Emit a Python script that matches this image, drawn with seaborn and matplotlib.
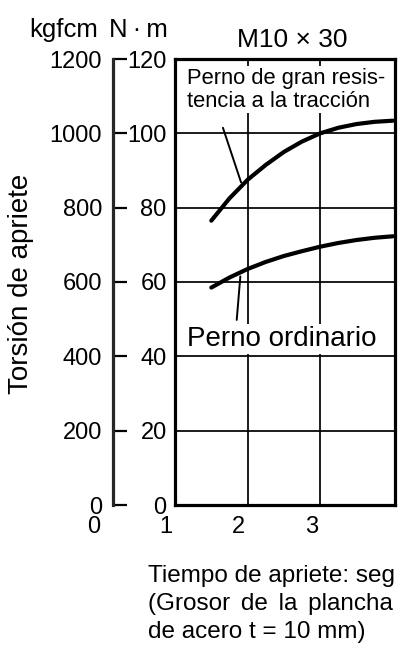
import numpy as np
import pandas as pd
import matplotlib
matplotlib.use("Agg")
import matplotlib.pyplot as plt
import matplotlib.transforms as mtransforms
import seaborn as sns

# tiempo de apriete (seg)
tiempo = [1.5, 1.75, 2.0, 2.25, 2.5, 2.75, 3.0, 3.25, 3.5, 3.75, 4.0]
# torsion de apriete (N·m)
perno_gran_resistencia = [76.5, 82.5, 87.5, 91.5, 95.0, 97.8, 100.0, 101.5, 102.5, 103.1, 103.4]
perno_ordinario = [58.5, 61.2, 63.5, 65.4, 67.0, 68.3, 69.5, 70.5, 71.3, 71.9, 72.3]

yticks_nm = [0, 20, 40, 60, 80, 100, 120]
yticks_kgfcm = [0, 200, 400, 600, 800, 1000, 1200]
xticks = [1, 2, 3]

W, H = 403, 650


def px(x, y):
    """pixel coords of the reference -> figure fraction"""
    return x / W, 1 - y / H


df = pd.concat([
    pd.DataFrame({"tiempo": tiempo, "torsion": perno_gran_resistencia, "perno": "gran"}),
    pd.DataFrame({"tiempo": tiempo, "torsion": perno_ordinario, "perno": "ordinario"}),
])

sns.set_style("white")
plt.rcParams["font.family"] = ["Liberation Sans", "DejaVu Sans"]
plt.rcParams["text.color"] = "black"
plt.rcParams["xtick.color"] = "black"
plt.rcParams["ytick.color"] = "black"

fig = plt.figure(figsize=(W / 100, H / 100), dpi=100)
ax = fig.add_axes([175 / W, 1 - 505 / H, 220 / W, 446 / H])

sns.lineplot(data=df, x="tiempo", y="torsion", hue="perno", palette=["black", "black"],
             linewidth=3.0, legend=False, ax=ax, zorder=3)

ax.set_xlim(1, 4.03)
ax.set_ylim(0, 120)
ax.set_xticks(xticks)
ax.set_yticks(yticks_nm)
ax.grid(True, color="black", linewidth=1.25)
ax.set_xlabel("")
ax.set_ylabel("")
for s in ax.spines.values():
    s.set_visible(True)
    s.set_color("black")
    s.set_linewidth(2.3)
ax.tick_params(axis="y", length=0, pad=6, labelsize=17, labelcolor="black")
ax.tick_params(axis="x", length=0, pad=8, labelsize=17, labelcolor="black")
shift = mtransforms.ScaledTranslation(-0.09, 0, fig.dpi_scale_trans)
for lab in ax.get_xticklabels():
    lab.set_transform(lab.get_transform() + shift)
ax.text(0, 0, "0", transform=ax.get_xaxis_transform() + shift
        + mtransforms.ScaledTranslation(0, -0.11, fig.dpi_scale_trans),
        ha="center", va="top", fontsize=17, clip_on=False)

# kgfcm scale
sec = ax.secondary_yaxis((113 - 175) / 220, functions=(lambda v: v * 10, lambda v: v / 10))
sec.set_yticks(yticks_kgfcm)
sec.spines["left"].set_linewidth(2.3)
sec.tick_params(direction="in", length=10, width=1.6, pad=8, labelsize=17, labelcolor="black")

# curve labels with leader lines
ax.text(1.16, 117.6, "Perno de gran resis-\ntencia a la tracción", fontsize=15.8,
        ha="left", va="top", linespacing=1.1, zorder=4,
        bbox=dict(facecolor="white", edgecolor="none", pad=1.5))
ax.plot([1.66, 1.91], [101.5, 86.8], color="black", lw=1.4, zorder=3)
ax.text(1.16, 44.6, "Perno ordinario", fontsize=20, ha="left", va="center", zorder=4,
        bbox=dict(facecolor="white", edgecolor="none", pad=1.5))
ax.plot([1.85, 1.9], [49.8, 61.5], color="black", lw=1.4, zorder=3)

fig.text(*px(64, 30), "kgfcm", fontsize=18.5, ha="center", va="center")
fig.text(*px(138, 30), "N\u2009·\u2009m", fontsize=18.5, ha="center", va="center")
fig.text(*px(292, 40), "M10 × 30", fontsize=19, ha="center", va="center")
fig.text(*px(21, 284), "Torsión de apriete", fontsize=20, rotation=90, ha="center", va="center")

fig.text(*px(148, 576), "Tiempo de apriete: seg", fontsize=17.5, ha="left", va="center")
fig.text(*px(148, 604), "(Grosor \u2006de \u2006la \u2006plancha", fontsize=17.5, ha="left", va="center")
fig.text(*px(148, 632), "de acero t = 10 mm)", fontsize=17.5, ha="left", va="center")

fig.savefig("out.png", dpi=100)
